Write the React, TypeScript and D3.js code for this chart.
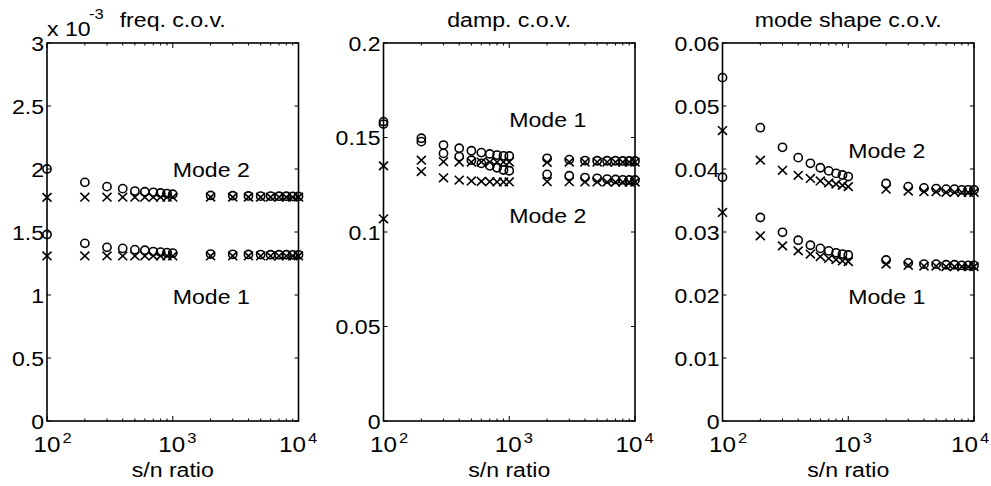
import React from "react";
import { scaleLog, scaleLinear } from "d3";

// s/n ratio (x axis, log scale)
const snRatio = [
  100, 200, 300, 400, 500, 600, 700, 800, 900, 1000,
  2000, 3000, 4000, 5000, 6000, 7000, 8000, 9000, 10000,
];

// frequency c.o.v. (in units of 10^-3)
const freqMode2Circle = [2.0, 1.894, 1.86, 1.844, 1.825, 1.82, 1.815, 1.81, 1.805, 1.8, 1.79, 1.788, 1.786, 1.785, 1.785, 1.784, 1.784, 1.783, 1.783];
const freqMode2Cross = [1.775, 1.776, 1.776, 1.776, 1.776, 1.776, 1.776, 1.776, 1.776, 1.776, 1.777, 1.777, 1.777, 1.777, 1.777, 1.777, 1.777, 1.777, 1.777];
const freqMode1Circle = [1.48, 1.41, 1.378, 1.37, 1.36, 1.355, 1.345, 1.34, 1.336, 1.333, 1.325, 1.323, 1.322, 1.321, 1.32, 1.32, 1.32, 1.319, 1.319];
const freqMode1Cross = [1.31, 1.31, 1.31, 1.31, 1.31, 1.31, 1.31, 1.31, 1.31, 1.31, 1.31, 1.31, 1.31, 1.31, 1.31, 1.31, 1.31, 1.31, 1.31];

// damping c.o.v.
const dampMode1Circle = [0.1584, 0.1496, 0.146, 0.1443, 0.143, 0.142, 0.1413, 0.1407, 0.1403, 0.1402, 0.139, 0.1383, 0.1378, 0.1377, 0.1377, 0.1377, 0.1376, 0.1376, 0.1376];
const dampMode1Cross = [0.135, 0.138, 0.1372, 0.137, 0.137, 0.137, 0.137, 0.137, 0.137, 0.137, 0.1369, 0.137, 0.137, 0.137, 0.137, 0.137, 0.137, 0.137, 0.137];
const dampMode2Circle = [0.1571, 0.1478, 0.1416, 0.1399, 0.138, 0.1363, 0.135, 0.134, 0.1328, 0.1324, 0.1305, 0.1298, 0.1288, 0.1284, 0.128, 0.1278, 0.1276, 0.1275, 0.1275];
const dampMode2Cross = [0.107, 0.132, 0.1287, 0.1275, 0.127, 0.1268, 0.1266, 0.1265, 0.1265, 0.1265, 0.1266, 0.1266, 0.1265, 0.1265, 0.1264, 0.1264, 0.1264, 0.1264, 0.1264];

// mode shape c.o.v.
const shapeMode2Circle = [0.0545, 0.04656, 0.04344, 0.0418, 0.0409, 0.0402, 0.0397, 0.0393, 0.03905, 0.0388, 0.0377, 0.0372, 0.037, 0.0369, 0.0368, 0.0368, 0.0367, 0.0367, 0.0367];
const shapeMode2Cross = [0.0461, 0.0414, 0.0398, 0.039, 0.0385, 0.0381, 0.0378, 0.0376, 0.0374, 0.0372, 0.0368, 0.0365, 0.0364, 0.0364, 0.0363, 0.0363, 0.0363, 0.0363, 0.0363];
const shapeMode1Circle = [0.0387, 0.0323, 0.02995, 0.0287, 0.0279, 0.0274, 0.027, 0.0267, 0.0265, 0.02635, 0.02556, 0.0251, 0.0249, 0.0249, 0.0248, 0.0248, 0.0247, 0.0247, 0.0247];
const shapeMode1Cross = [0.0331, 0.0294, 0.0278, 0.027, 0.0265, 0.0261, 0.0258, 0.0256, 0.0254, 0.0253, 0.0249, 0.0247, 0.0246, 0.0246, 0.0245, 0.0245, 0.0245, 0.0245, 0.0245];

// tick labels
const freqTicks = [0, 0.5, 1, 1.5, 2, 2.5, 3];
const dampTicks = [0, 0.05, 0.1, 0.15, 0.2];
const shapeTicks = [0, 0.01, 0.02, 0.03, 0.04, 0.05, 0.06];
const xMajor = [100, 1000, 10000];
const xExponents = ["2", "3", "4"];
const xMinor = [200, 300, 400, 500, 600, 700, 800, 900, 2000, 3000, 4000, 5000, 6000, 7000, 8000, 9000];

const FONT = "'Liberation Sans', Arial, sans-serif";
const SX = 1.1; // the original text is a little wider than Arial
const W = 991;

function Txt({ x, y, size = 21, anchor = "start", children }) {
  return (
    <text
      transform={`translate(${x},${y}) scale(${SX},1)`}
      fontSize={size}
      textAnchor={anchor}
      fontFamily={FONT}
      fill="#000"
    >
      {children}
    </text>
  );
}

function Panel({ left, title, yMax, yTicks, tickFmt, series, labels, exponent }) {
  const top = 43;
  const bottom = 421;
  const width = 251.5;
  const x = scaleLog().domain([100, 10000]).range([left, left + width]);
  const y = scaleLinear().domain([0, yMax]).range([bottom, top]);
  const r = x.range();

  // matlab nudges the exponent labels so they stay centred / inside the figure
  const labelX = (t, i) => {
    const shift = [0, -1, -6][i];
    const cx = x(t) + shift;
    return Math.min(cx, W - 3 - 8 - 15.5);
  };

  return (
    <g>
      {/* title */}
      <Txt x={(r[0] + r[1]) / 2} y={27} anchor="middle">{title}</Txt>
      {exponent && (
        <g>
          <Txt x={left} y={36}>x 10</Txt>
          <Txt x={left + 42} y={19} size={15}>-3</Txt>
        </g>
      )}

      {/* markers */}
      {series.map((s, si) => (
        <g key={si} stroke="#000" strokeWidth={1.6} fill="none">
          {s.values.map((v, i) => {
            const cx = x(snRatio[i]);
            const cy = y(v);
            return s.marker === "o" ? (
              <circle key={i} cx={cx} cy={cy} r={4.1} />
            ) : (
              <path key={i} d={`M${cx - 4.5},${cy - 4.3}L${cx + 4.5},${cy + 4.3}M${cx - 4.5},${cy + 4.3}L${cx + 4.5},${cy - 4.3}`} />
            );
          })}
        </g>
      ))}

      {/* box */}
      <rect x={r[0]} y={top} width={width} height={bottom - top} fill="none" stroke="#000" strokeWidth={1.6} />

      {/* y ticks */}
      {yTicks.map((t) => (
        <g key={t}>
          <line x1={r[0]} x2={r[0] + 4} y1={y(t)} y2={y(t)} stroke="#000" strokeWidth={1} />
          <line x1={r[1]} x2={r[1] - 4} y1={y(t)} y2={y(t)} stroke="#000" strokeWidth={1} />
          <Txt x={r[0] - 3} y={y(t) + 7.5} anchor="end">{tickFmt(t)}</Txt>
        </g>
      ))}

      {/* x ticks */}
      {xMajor.map((t, i) => (
        <g key={t}>
          <line x1={x(t)} x2={x(t)} y1={bottom} y2={bottom - 5} stroke="#000" strokeWidth={1} />
          <line x1={x(t)} x2={x(t)} y1={top} y2={top + 5} stroke="#000" strokeWidth={1} />
          <Txt x={labelX(t, i)} y={452} size={22} anchor="middle">10</Txt>
          <Txt x={labelX(t, i) + 15.5} y={443} size={15}>{xExponents[i]}</Txt>
        </g>
      ))}
      {xMinor.map((t) => (
        <g key={t}>
          <line x1={x(t)} x2={x(t)} y1={bottom} y2={bottom - 2.5} stroke="#000" strokeWidth={1} />
          <line x1={x(t)} x2={x(t)} y1={top} y2={top + 2.5} stroke="#000" strokeWidth={1} />
        </g>
      ))}

      <Txt x={(r[0] + r[1]) / 2} y={477} anchor="middle">s/n ratio</Txt>

      {/* mode labels */}
      {labels.map((l) => (
        <Txt key={l.text} x={x(l.at)} y={y(l.value)}>{l.text}</Txt>
      ))}
    </g>
  );
}

export default function App() {
  const fmt = (t) => String(t);
  return (
    <svg width={W} height={486} style={{ position: "absolute", left: 0, top: 0, background: "#fff" }}>
      <rect width={W} height={486} fill="#fff" />
      <Panel
        left={47}
        title="freq. c.o.v."
        yMax={3}
        yTicks={freqTicks}
        tickFmt={fmt}
        exponent
        series={[
          { marker: "o", values: freqMode2Circle },
          { marker: "x", values: freqMode2Cross },
          { marker: "o", values: freqMode1Circle },
          { marker: "x", values: freqMode1Cross },
        ]}
        labels={[
          { text: "Mode 2", at: 1000, value: 1.94 },
          { text: "Mode 1", at: 1000, value: 0.93 },
        ]}
      />
      <Panel
        left={383.5}
        title="damp. c.o.v."
        yMax={0.2}
        yTicks={dampTicks}
        tickFmt={fmt}
        series={[
          { marker: "o", values: dampMode1Circle },
          { marker: "x", values: dampMode1Cross },
          { marker: "o", values: dampMode2Circle },
          { marker: "x", values: dampMode2Cross },
        ]}
        labels={[
          { text: "Mode 1", at: 1000, value: 0.1555 },
          { text: "Mode 2", at: 1000, value: 0.105 },
        ]}
      />
      <Panel
        left={722.5}
        title="mode shape c.o.v."
        yMax={0.06}
        yTicks={shapeTicks}
        tickFmt={fmt}
        series={[
          { marker: "o", values: shapeMode2Circle },
          { marker: "x", values: shapeMode2Cross },
          { marker: "o", values: shapeMode1Circle },
          { marker: "x", values: shapeMode1Cross },
        ]}
        labels={[
          { text: "Mode 2", at: 1000, value: 0.0417 },
          { text: "Mode 1", at: 1000, value: 0.0186 },
        ]}
      />
    </svg>
  );
}
